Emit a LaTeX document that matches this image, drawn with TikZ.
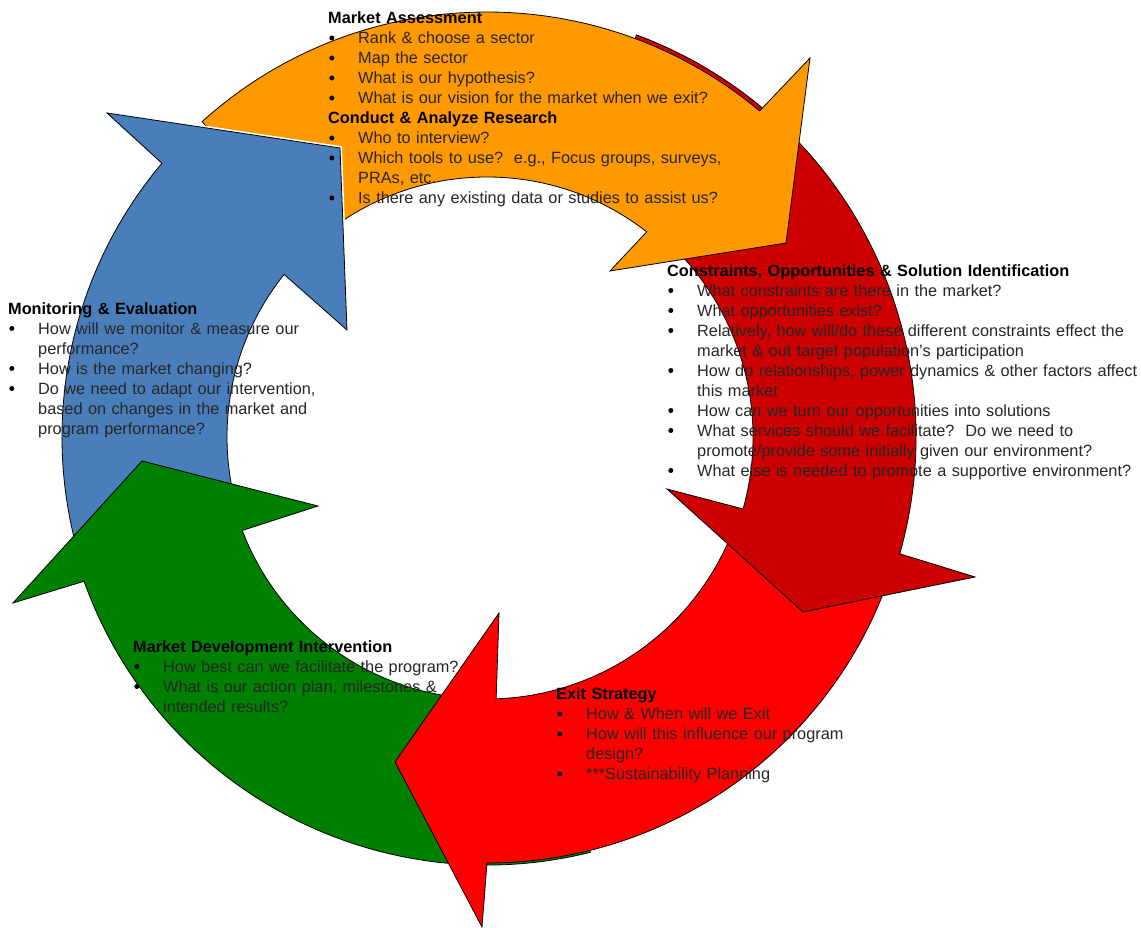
\documentclass[tikz,border=0pt]{standalone}
\usepackage{fontspec}
\setmainfont{Liberation Sans}
\definecolor{cOrange}{HTML}{FF9900}
\definecolor{cDarkRed}{HTML}{CC0000}
\definecolor{cRed}{HTML}{FF0000}
\definecolor{cGreen}{HTML}{008000}
\definecolor{cBlue}{HTML}{4A7EBB}
\newcommand\bulletitem{\makebox[30pt][l]{\tikz[baseline=0pt]{\path (0pt,6pt); \fill[black] (3.6pt,6pt) circle[radius=2.5pt];}}}
\newcommand\contline{\hspace*{30pt}}
\newcommand\hd[1]{\textbf{\color{black}#1}}
\newcommand\BlueArrowPath{(197:425pt) arc[start angle=197, end angle=139.9, radius=425pt] -- (-380,324) -- (-147,289) -- (-140,107) -- (141.3:260pt) arc[start angle=141.3, end angle=197, radius=260pt] -- cycle}
\newcommand\GreenArrowPath{(-76:428pt) arc[start angle=-76, end angle=-160.3, radius=428pt] -- (-474,-166) -- (-345,-24) -- (-169,-69) -- (-159.1:262pt) arc[start angle=-159.1, end angle=-92, radius=262pt] -- cycle}
\newcommand\RedArrowPath{(-19:426pt) arc[start angle=-19, end angle=-90, radius=426pt] -- (-5,-490) -- (-92,-325) -- (12,-176) -- (-88:262pt) arc[start angle=-88, end angle=-19, radius=264pt] -- cycle}
\newcommand\DarkRedArrowPath{(69.6:429pt) arc[start angle=69.6, end angle=-15.8, radius=429pt] -- (488,-140) -- (316,-175) -- (180,-52) -- (-15.7:266pt) arc[start angle=-15.7, end angle=69.6, radius=266pt] -- cycle}
\newcommand\OrangeArrowPath{(132.1:425pt) arc[start angle=132.1, end angle=50.1, radius=425pt] -- (323,379) -- (299,194) -- (123,166) -- (52.1:260pt) arc[start angle=52.1, end angle=132.1, radius=260pt] -- cycle}
\begin{document}
\begin{tikzpicture}[x=1pt,y=1pt,
  arrowshape/.style={draw=black, line width=0.8pt, line join=miter},
  txtblock/.style={anchor=base west, inner sep=0pt, text width=600pt, align=left,
    font=\fontsize{16.3}{20}\selectfont, text=black!85}]
\useasboundingbox (0,0) rectangle (1141,928);
\fill[white] (0,0) rectangle (1141,928);
\begin{scope}[shift={(487,491)}]
  \draw[arrowshape, fill=cBlue] \BlueArrowPath;
  \draw[arrowshape, fill=cGreen] \GreenArrowPath;
  \draw[arrowshape, fill=cRed] \RedArrowPath;
  \draw[arrowshape, fill=cDarkRed] \DarkRedArrowPath;
  \draw[arrowshape, fill=cOrange] \OrangeArrowPath;
  \begin{scope}
    \clip (-487,37) rectangle (-67,437);
    \draw[white, line width=4pt] \BlueArrowPath;
    \draw[arrowshape, fill=cBlue] \BlueArrowPath;
  \end{scope}
\end{scope}

\node[txtblock] (tMarket) at (328,904) {\hd{Market Assessment}\\
\bulletitem Rank \& choose a sector\\
\bulletitem Map the sector\\
\bulletitem What is our hypothesis?\\
\bulletitem What is our vision for the market when we exit?\\
\hd{Conduct \& Analyze Research}\\
\bulletitem Who to interview?\\
\bulletitem Which tools to use?\ \ e.g., Focus groups, surveys,\\
\contline PRAs, etc.\\
\bulletitem Is there any existing data or studies to assist us?};

\node[txtblock] (tConstraints) at (667,651.5) {\hd{Constraints, Opportunities \& Solution Identification}\\
\bulletitem What constraints are there in the market?\\
\bulletitem What opportunities exist?\\
\bulletitem Relatively, how will/do these different constraints effect the\\
\contline market \& out target population’s participation\\
\bulletitem How do relationships, power dynamics \& other factors affect\\
\contline this market\\
\bulletitem How can we turn our opportunities into solutions\\
\bulletitem What services should we facilitate?\ \ Do we need to\\
\contline promote/provide some initially given our environment?\\
\bulletitem What else is needed to promote a supportive environment?};

\node[txtblock] (tMonitoring) at (8,613.5) {\hd{Monitoring \& Evaluation}\\
\bulletitem How will we monitor \& measure our\\
\contline performance?\\
\bulletitem How is the market changing?\\
\bulletitem Do we need to adapt our intervention,\\
\contline based on changes in the market and\\
\contline program performance?};

\node[txtblock] (tDevelopment) at (133,275.5) {\hd{Market Development Intervention}\\
\bulletitem How best can we facilitate the program?\\
\bulletitem What is our action plan, milestones \&\\
\contline intended results?};

\node[txtblock] (tExit) at (556,228) {\hd{Exit Strategy}\\
\bulletitem How \& When will we Exit\\
\bulletitem How will this influence our program\\
\contline design?\\
\bulletitem ***Sustainability Planning};
\end{tikzpicture}
\end{document}
